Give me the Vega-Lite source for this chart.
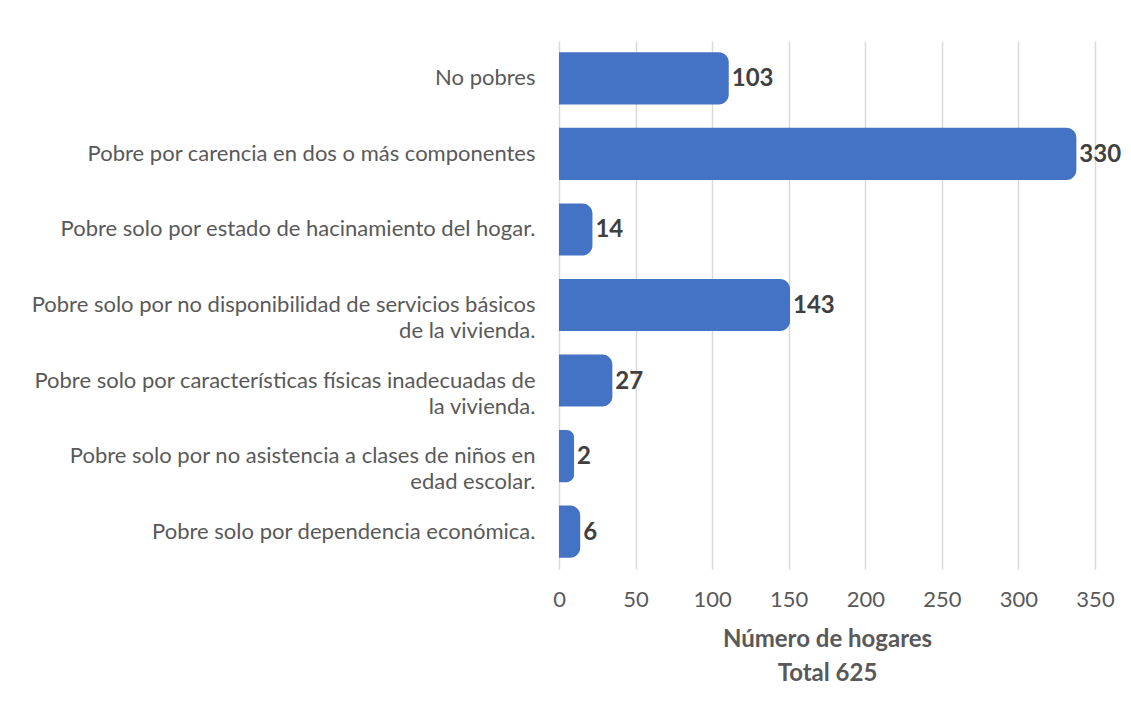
{
  "$schema": "https://vega.github.io/schema/vega-lite/v6.json",
  "autosize": {"type": "none"},
  "width": 536,
  "height": 528,
  "padding": {"left": 559, "top": 41, "right": 36, "bottom": 144},
  "background": "white",
  "config": {
    "font": "Lato",
    "view": {"stroke": null},
    "axis": {"labelFont": "Lato", "titleFont": "Lato"}
  },
  "data": {
    "values": [
      {"categoria": "No pobres", "hogares": 103},
      {"categoria": "Pobre por carencia en dos o más componentes", "hogares": 330},
      {"categoria": "Pobre solo por estado de hacinamiento del hogar.", "hogares": 14},
      {"categoria": "Pobre solo por no disponibilidad de servicios básicos|de la vivienda.", "hogares": 143},
      {"categoria": "Pobre solo por características físicas inadecuadas de|la vivienda.", "hogares": 27},
      {"categoria": "Pobre solo por no asistencia a clases de niños en|edad escolar.", "hogares": 2},
      {"categoria": "Pobre solo por dependencia económica.", "hogares": 6}
    ]
  },
  "encoding": {
    "y": {
      "field": "categoria",
      "type": "nominal",
      "sort": null,
      "scale": {"paddingInner": 0.31, "paddingOuter": 0.15},
      "axis": {
        "title": null,
        "domain": false,
        "ticks": false,
        "grid": false,
        "labelExpr": "split(datum.label, '|')",
        "labelFontSize": 22,
        "labelColor": "#595959",
        "labelPadding": 24,
        "labelLimit": 600,
        "labelLineHeight": 26,
        "labelAlign": "right"
      }
    }
  },
  "layer": [
    {
      "mark": {"type": "bar", "color": "#4472C4", "cornerRadiusTopRight": 10, "cornerRadiusBottomRight": 10, "xOffset": 12},
      "encoding": {
        "x": {
          "field": "hogares",
          "type": "quantitative",
          "scale": {"domain": [0, 350], "nice": false},
          "axis": {
            "values": [0, 50, 100, 150, 200, 250, 300, 350],
            "domain": false,
            "ticks": false,
            "grid": true,
            "gridColor": "#d9d9d9",
            "gridWidth": 1.5,
            "labelFontSize": 22,
            "labelColor": "#595959",
            "labelPadding": 20,
            "labelFlush": false,
            "title": ["Número de hogares", "Total 625"],
            "titleFontSize": 24,
            "titleFontWeight": "bold",
            "titleColor": "#595959",
            "titlePadding": 17,
            "titleLineHeight": 34
          }
        },
        "x2": {"datum": 0}
      }
    },
    {
      "mark": {"type": "text", "align": "left", "baseline": "middle", "dx": 15, "dy": 1, "fontSize": 24, "fontWeight": "bold", "color": "#404040"},
      "encoding": {
        "x": {"field": "hogares", "type": "quantitative"},
        "text": {"field": "hogares", "type": "quantitative"}
      }
    }
  ]
}
